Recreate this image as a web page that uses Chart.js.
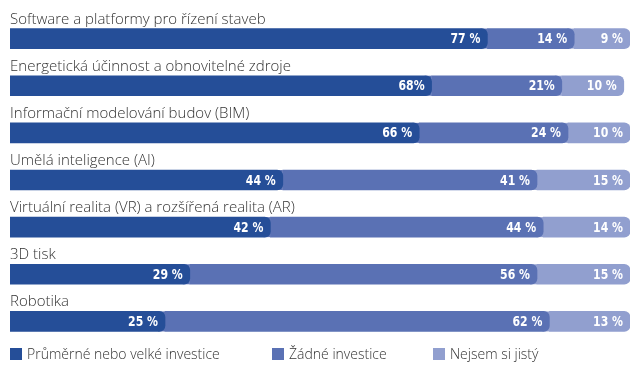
<!DOCTYPE html>
<html>
<head>
<meta charset="utf-8">
<script src="https://cdn.jsdelivr.net/npm/chart.js@4"></script>
<style>
  body { margin: 0; background: #fff; }
  #wrap { position: relative; width: 640px; height: 372px; }
  #legend { position: absolute; left: 10px; top: 344px; display: flex; font: 300 14px "Open Sans", sans-serif; color: #333; }
  #legend div { display: flex; align-items: center; }
  #legend span.box { width: 12px; height: 12px; margin-right: 5px; display: inline-block; }
</style>
</head>
<body>
<div id="wrap">
  <canvas id="surveyChart" width="640" height="372"></canvas>
  <div id="legend"></div>
</div>
<script>
const categories = [
  'Software a platformy pro řízení staveb',
  'Energetická účinnost a obnovitelné zdroje',
  'Informační modelování budov (BIM)',
  'Umělá inteligence (AI)',
  'Virtuální realita (VR) a rozšířená realita (AR)',
  '3D tisk',
  'Robotika'
]
const seriesNames = ['Průměrné nebo velké investice', 'Žádné investice', 'Nejsem si jistý']
const bigInvest = [77, 68, 66, 44, 42, 29, 25]
const noInvest = [14, 21, 24, 41, 44, 56, 62]
const notSure = [9, 10, 10, 15, 14, 15, 13]
// how the labels are printed in the source (one has no space before %)
const bigLabels = ['77 %', '68%', '66 %', '44 %', '42 %', '29 %', '25 %']
const noLabels = ['14 %', '21%', '24 %', '41 %', '44 %', '56 %', '62 %']
const notSureLabels = ['9 %', '10 %', '10 %', '15 %', '14 %', '15 %', '13 %']

const colors = ['#254e98', '#5a71b4', '#919fcf']
const radius = 6

// fill the strip behind the rounded end of the previous segment
const underlay = {
  id: 'underlay',
  beforeDatasetsDraw(chart) {
    const ctx = chart.ctx
    chart.data.datasets.forEach((ds, i) => {
      if (i === 0) return
      chart.getDatasetMeta(i).data.forEach(bar => {
        ctx.fillStyle = ds.backgroundColor
        ctx.fillRect(bar.base - radius - 1, bar.y - bar.height / 2, radius + 1, bar.height)
      })
    })
  }
}

const labels = {
  id: 'labels',
  afterDatasetsDraw(chart) {
    const ctx = chart.ctx
    ctx.save()
    // category names above each bar
    ctx.font = '300 15px "Open Sans", sans-serif'
    ctx.fillStyle = '#333'
    ctx.textAlign = 'left'
    ctx.textBaseline = 'alphabetic'
    chart.getDatasetMeta(0).data.forEach((bar, i) => {
      ctx.fillText(categories[i], chart.chartArea.left, bar.y - bar.height / 2 - 5)
    })
    // values at the end of each segment, squeezed to look condensed
    ctx.font = 'bold 14px "DejaVu Sans", sans-serif'
    ctx.fillStyle = '#ffffff'
    ctx.textAlign = 'right'
    ctx.textBaseline = 'middle'
    chart.data.datasets.forEach((ds, i) => {
      chart.getDatasetMeta(i).data.forEach((bar, j) => {
        ctx.save()
        ctx.translate(bar.x - 7, bar.y + 1)
        ctx.scale(0.78, 1)
        ctx.fillText(ds.valueLabels[j], 0, 0)
        ctx.restore()
      })
    })
    ctx.restore()
  }
}

const chart = new Chart(document.getElementById('surveyChart'), {
  type: 'bar',
  data: {
    labels: categories,
    datasets: [
      { label: seriesNames[0], data: bigInvest, valueLabels: bigLabels, backgroundColor: colors[0] },
      { label: seriesNames[1], data: noInvest, valueLabels: noLabels, backgroundColor: colors[1] },
      { label: seriesNames[2], data: notSure, valueLabels: notSureLabels, backgroundColor: colors[2] }
    ]
  },
  options: {
    indexAxis: 'y',
    responsive: false,
    animation: false,
    layout: { padding: { left: 10, right: 10, top: 15, bottom: 27 } },
    datasets: {
      bar: {
        barThickness: 20,
        borderRadius: { topRight: radius, bottomRight: radius, topLeft: 0, bottomLeft: 0 },
        borderSkipped: 'start'
      }
    },
    scales: {
      x: { stacked: true, min: 0, max: 100, display: false },
      y: { stacked: true, display: false }
    },
    plugins: {
      legend: { display: false },
      tooltip: { enabled: false }
    }
  },
  plugins: [underlay, labels]
})

// html legend built from the datasets
const legendEl = document.getElementById('legend')
const itemWidths = [262, 161, 150]
chart.data.datasets.forEach((ds, i) => {
  const item = document.createElement('div')
  item.style.width = itemWidths[i] + 'px'
  item.innerHTML = '<span class="box" style="background:' + ds.backgroundColor + '"></span>' + ds.label
  legendEl.appendChild(item)
})
</script>
</body>
</html>
